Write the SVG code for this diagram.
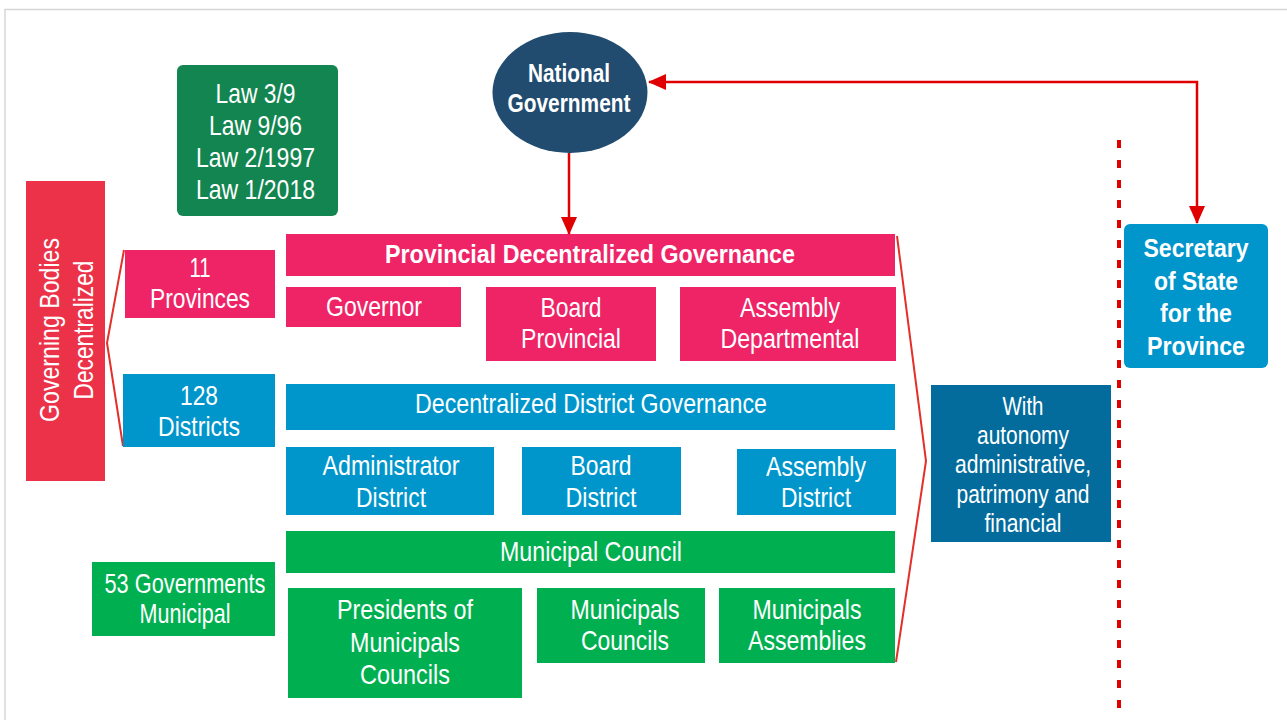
<svg xmlns="http://www.w3.org/2000/svg" width="1287" height="720" viewBox="0 0 1287 720">
<defs>
<style>
.t{font-family:"Liberation Sans",Arial,sans-serif;fill:#fff;text-anchor:middle;font-size:28px}
.b{font-weight:bold;font-size:26px}
.s{font-size:25.5px}
.pink{fill:#EE2467}
.blue{fill:#0096CC}
.green{fill:#00B050}
.bracket{fill:none;stroke:#E3302B;stroke-width:2}
.conn{fill:none;stroke:#E00000;stroke-width:2.5}
</style>
<marker id="ah" markerUnits="userSpaceOnUse" markerWidth="18" markerHeight="16" viewBox="0 0 18 16" refX="17" refY="8" orient="auto-start-reverse">
<path d="M0,0 L18,8 L0,16 z" fill="#E00000"/>
</marker>
</defs>
<rect x="5" y="9.5" width="1300" height="720" fill="#fff" stroke="#D6D6D6" stroke-width="1.5"/>

<g id="connectors">
<path class="conn" d="M569,153 V234" marker-end="url(#ah)"/>
<path class="conn" d="M649,82 H1197 V223" marker-start="url(#ah)" marker-end="url(#ah)"/>
<path d="M1119,140 V708" fill="none" stroke="#E00000" stroke-width="4" stroke-dasharray="8 12"/>
<path class="bracket" d="M124,250 L107,343 L123,446"/>
<path class="bracket" d="M897,236 L926,461 L896,662"/>
</g>

<g id="laws">
<rect x="177" y="65" width="161" height="151" rx="6" fill="#138550"/>
<text class="t"><tspan x="255.5" y="103" textLength="80" lengthAdjust="spacingAndGlyphs">Law 3/9</tspan><tspan x="255.5" y="135" textLength="93" lengthAdjust="spacingAndGlyphs">Law 9/96</tspan><tspan x="255.5" y="167" textLength="119" lengthAdjust="spacingAndGlyphs">Law 2/1997</tspan><tspan x="255.5" y="199" textLength="119" lengthAdjust="spacingAndGlyphs">Law 1/2018</tspan></text>
</g>

<g id="national-government">
<ellipse cx="570" cy="92.5" rx="77.5" ry="60.5" fill="#214C6F"/>
<text class="t b"><tspan x="569" y="82" textLength="82" lengthAdjust="spacingAndGlyphs">National</tspan><tspan x="569" y="112" textLength="123" lengthAdjust="spacingAndGlyphs">Government</tspan></text>
</g>

<g id="secretary">
<rect x="1124" y="224" width="144" height="144" rx="6" fill="#0096CC"/>
<text class="t b"><tspan x="1196" y="257" textLength="105" lengthAdjust="spacingAndGlyphs">Secretary</tspan><tspan x="1196" y="289.5" textLength="84" lengthAdjust="spacingAndGlyphs">of State</tspan><tspan x="1196" y="322" textLength="72" lengthAdjust="spacingAndGlyphs">for the</tspan><tspan x="1196" y="354.5" textLength="98" lengthAdjust="spacingAndGlyphs">Province</tspan></text>
</g>

<g id="governing-bodies">
<rect x="26" y="181" width="79" height="300" fill="#EC3249"/>
<text class="t" transform="translate(58.5,330) rotate(-90)"><tspan x="0" y="0" textLength="184" lengthAdjust="spacingAndGlyphs">Governing Bodies</tspan><tspan x="0" y="34" textLength="139" lengthAdjust="spacingAndGlyphs">Decentralized</tspan></text>
</g>

<g id="provinces">
<rect class="pink" x="125" y="250" width="150" height="68"/>
<text class="t"><tspan x="200" y="277" textLength="21" lengthAdjust="spacingAndGlyphs">11</tspan><tspan x="200" y="308" textLength="100" lengthAdjust="spacingAndGlyphs">Provinces</tspan></text>
</g>

<g id="districts">
<rect class="blue" x="123" y="374" width="152" height="73"/>
<text class="t"><tspan x="199" y="405" textLength="38" lengthAdjust="spacingAndGlyphs">128</tspan><tspan x="199" y="436" textLength="82" lengthAdjust="spacingAndGlyphs">Districts</tspan></text>
</g>

<g id="municipal-governments">
<rect class="green" x="92" y="562" width="183" height="74"/>
<text class="t"><tspan x="185" y="593" textLength="161" lengthAdjust="spacingAndGlyphs">53 Governments</tspan><tspan x="185" y="623" textLength="91" lengthAdjust="spacingAndGlyphs">Municipal</tspan></text>
</g>

<g id="provincial-governance">
<rect class="pink" x="286" y="234" width="609" height="42"/>
<text class="t b" style="font-size:25.5px" x="590" y="263" textLength="410" lengthAdjust="spacingAndGlyphs">Provincial Decentralized Governance</text>
</g>

<g id="governor">
<rect class="pink" x="286" y="287" width="175" height="40"/>
<text class="t" x="374" y="316" textLength="96" lengthAdjust="spacingAndGlyphs">Governor</text>
</g>

<g id="board-provincial">
<rect class="pink" x="486" y="287" width="170" height="74"/>
<text class="t"><tspan x="571" y="317" textLength="61" lengthAdjust="spacingAndGlyphs">Board</tspan><tspan x="571" y="348" textLength="100" lengthAdjust="spacingAndGlyphs">Provincial</tspan></text>
</g>

<g id="assembly-departmental">
<rect class="pink" x="680" y="287" width="216" height="74"/>
<text class="t"><tspan x="790" y="317" textLength="100" lengthAdjust="spacingAndGlyphs">Assembly</tspan><tspan x="790" y="348" textLength="139" lengthAdjust="spacingAndGlyphs">Departmental</tspan></text>
</g>

<g id="district-governance">
<rect class="blue" x="286" y="384" width="609" height="46"/>
<text class="t" x="591" y="413" textLength="352" lengthAdjust="spacingAndGlyphs">Decentralized District Governance</text>
</g>

<g id="administrator-district">
<rect class="blue" x="286" y="447" width="208" height="68"/>
<text class="t"><tspan x="391" y="475" textLength="137" lengthAdjust="spacingAndGlyphs">Administrator</tspan><tspan x="391" y="506.5" textLength="70" lengthAdjust="spacingAndGlyphs">District</tspan></text>
</g>

<g id="board-district">
<rect class="blue" x="522" y="447" width="159" height="68"/>
<text class="t"><tspan x="601" y="475" textLength="61" lengthAdjust="spacingAndGlyphs">Board</tspan><tspan x="601" y="506.5" textLength="71" lengthAdjust="spacingAndGlyphs">District</tspan></text>
</g>

<g id="assembly-district">
<rect class="blue" x="737" y="449" width="159" height="66"/>
<text class="t"><tspan x="816" y="476" textLength="100" lengthAdjust="spacingAndGlyphs">Assembly</tspan><tspan x="816" y="507" textLength="70" lengthAdjust="spacingAndGlyphs">District</tspan></text>
</g>

<g id="municipal-council">
<rect class="green" x="286" y="531" width="609" height="42"/>
<text class="t" x="591" y="561" textLength="182" lengthAdjust="spacingAndGlyphs">Municipal Council</text>
</g>

<g id="presidents">
<rect class="green" x="288" y="588" width="234" height="110"/>
<text class="t"><tspan x="405" y="619" textLength="136" lengthAdjust="spacingAndGlyphs">Presidents of</tspan><tspan x="405" y="651.5" textLength="110" lengthAdjust="spacingAndGlyphs">Municipals</tspan><tspan x="405" y="683.5" textLength="90" lengthAdjust="spacingAndGlyphs">Councils</tspan></text>
</g>

<g id="municipals-councils">
<rect class="green" x="537" y="588" width="168" height="75"/>
<text class="t"><tspan x="625" y="619" textLength="109" lengthAdjust="spacingAndGlyphs">Municipals</tspan><tspan x="625" y="650" textLength="88" lengthAdjust="spacingAndGlyphs">Councils</tspan></text>
</g>

<g id="municipals-assemblies">
<rect class="green" x="719" y="588" width="176" height="75"/>
<text class="t"><tspan x="807" y="619" textLength="109" lengthAdjust="spacingAndGlyphs">Municipals</tspan><tspan x="807" y="650" textLength="118" lengthAdjust="spacingAndGlyphs">Assemblies</tspan></text>
</g>

<g id="autonomy">
<rect x="931" y="385" width="180" height="157" fill="#036C9C"/>
<text class="t s"><tspan x="1023" y="415" textLength="41" lengthAdjust="spacingAndGlyphs">With</tspan><tspan x="1023" y="444" textLength="92" lengthAdjust="spacingAndGlyphs">autonomy</tspan><tspan x="1023" y="473" textLength="136" lengthAdjust="spacingAndGlyphs">administrative,</tspan><tspan x="1023" y="502.5" textLength="133" lengthAdjust="spacingAndGlyphs">patrimony and</tspan><tspan x="1023" y="531.5" textLength="77" lengthAdjust="spacingAndGlyphs">financial</tspan></text>
</g>
</svg>
